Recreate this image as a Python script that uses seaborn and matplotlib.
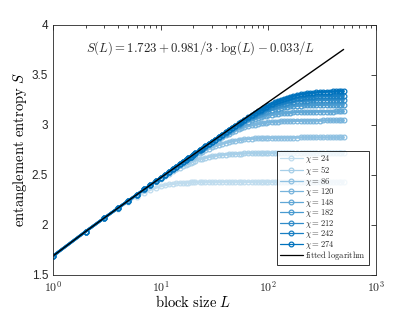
import numpy as np
import pandas as pd
import matplotlib
matplotlib.use("Agg")
import matplotlib.pyplot as plt
import matplotlib.ticker as mticker
import seaborn as sns

# ---------------- data ----------------
L_values = [1, 2, 3, 4, 5, 6, 7, 8, 9, 10,
            11, 12, 13, 14, 15, 16, 17, 18, 19, 20,
            21, 23, 24, 26, 28, 30, 32, 35, 37, 40,
            43, 46, 49, 53, 56, 60, 65, 70, 75, 80,
            85, 90, 95, 100, 107, 115, 122, 130, 140, 150,
            160, 170, 185, 200, 215, 230, 245, 260, 280, 300,
            325, 350, 375, 400, 425, 450, 475, 500]

chi_values = [24, 52, 86, 120, 148, 182, 212, 242, 274]

S_chi24 = [1.690, 1.933, 2.069, 2.163, 2.232, 2.283, 2.322, 2.351, 2.372, 2.387,
           2.397, 2.405, 2.411, 2.415, 2.418, 2.420, 2.422, 2.424, 2.425, 2.426,
           2.426, 2.427, 2.428, 2.428, 2.429, 2.429, 2.429, 2.429, 2.430, 2.430,
           2.430, 2.430, 2.430, 2.430, 2.430, 2.430, 2.430, 2.430, 2.430, 2.430,
           2.430, 2.430, 2.430, 2.430, 2.430, 2.430, 2.430, 2.430, 2.430, 2.430,
           2.430, 2.430, 2.430, 2.430, 2.430, 2.430, 2.430, 2.430, 2.430, 2.430,
           2.430, 2.430, 2.430, 2.430, 2.430, 2.430, 2.430, 2.430]
S_chi52 = [1.690, 1.933, 2.071, 2.167, 2.242, 2.300, 2.351, 2.393, 2.430, 2.462,
           2.490, 2.514, 2.536, 2.556, 2.572, 2.588, 2.602, 2.613, 2.624, 2.633,
           2.643, 2.657, 2.663, 2.672, 2.680, 2.686, 2.692, 2.698, 2.701, 2.704,
           2.707, 2.710, 2.711, 2.713, 2.714, 2.715, 2.716, 2.717, 2.717, 2.718,
           2.718, 2.718, 2.719, 2.719, 2.719, 2.719, 2.720, 2.720, 2.720, 2.720,
           2.720, 2.720, 2.720, 2.720, 2.720, 2.720, 2.720, 2.720, 2.720, 2.720,
           2.720, 2.720, 2.720, 2.720, 2.720, 2.720, 2.720, 2.720]
S_chi86 = [1.690, 1.933, 2.071, 2.168, 2.243, 2.302, 2.354, 2.398, 2.436, 2.470,
           2.500, 2.528, 2.553, 2.576, 2.597, 2.617, 2.634, 2.650, 2.666, 2.680,
           2.694, 2.717, 2.727, 2.746, 2.762, 2.776, 2.788, 2.803, 2.812, 2.822,
           2.831, 2.837, 2.843, 2.849, 2.853, 2.856, 2.860, 2.863, 2.865, 2.867,
           2.868, 2.869, 2.870, 2.871, 2.871, 2.872, 2.873, 2.873, 2.874, 2.874,
           2.874, 2.874, 2.874, 2.875, 2.875, 2.875, 2.875, 2.875, 2.875, 2.875,
           2.875, 2.875, 2.875, 2.875, 2.875, 2.875, 2.875, 2.875]
S_chi120 = [1.690, 1.933, 2.071, 2.168, 2.243, 2.303, 2.355, 2.399, 2.438, 2.472,
            2.503, 2.532, 2.558, 2.582, 2.604, 2.625, 2.645, 2.662, 2.680, 2.696,
            2.712, 2.740, 2.753, 2.777, 2.798, 2.819, 2.837, 2.862, 2.876, 2.896,
            2.912, 2.927, 2.941, 2.956, 2.966, 2.976, 2.988, 2.997, 3.004, 3.011,
            3.016, 3.020, 3.023, 3.026, 3.029, 3.032, 3.034, 3.036, 3.038, 3.039,
            3.040, 3.041, 3.042, 3.042, 3.043, 3.043, 3.044, 3.044, 3.044, 3.044,
            3.045, 3.045, 3.045, 3.045, 3.045, 3.045, 3.045, 3.045]
S_chi148 = [1.690, 1.933, 2.071, 2.168, 2.243, 2.303, 2.355, 2.399, 2.438, 2.473,
            2.504, 2.533, 2.559, 2.583, 2.605, 2.627, 2.647, 2.665, 2.682, 2.699,
            2.714, 2.744, 2.757, 2.782, 2.805, 2.827, 2.846, 2.874, 2.890, 2.913,
            2.933, 2.951, 2.968, 2.987, 3.001, 3.016, 3.033, 3.046, 3.059, 3.068,
            3.077, 3.085, 3.090, 3.096, 3.102, 3.108, 3.112, 3.115, 3.119, 3.121,
            3.124, 3.126, 3.128, 3.129, 3.130, 3.131, 3.132, 3.132, 3.133, 3.133,
            3.134, 3.134, 3.134, 3.134, 3.135, 3.135, 3.135, 3.135]
S_chi182 = [1.690, 1.933, 2.071, 2.168, 2.243, 2.303, 2.355, 2.399, 2.438, 2.473,
            2.504, 2.533, 2.559, 2.584, 2.606, 2.627, 2.647, 2.665, 2.683, 2.700,
            2.716, 2.745, 2.759, 2.784, 2.808, 2.830, 2.850, 2.879, 2.896, 2.920,
            2.941, 2.961, 2.979, 3.002, 3.017, 3.035, 3.055, 3.072, 3.088, 3.102,
            3.113, 3.123, 3.132, 3.140, 3.150, 3.158, 3.164, 3.170, 3.176, 3.181,
            3.185, 3.188, 3.192, 3.194, 3.196, 3.198, 3.199, 3.200, 3.201, 3.202,
            3.202, 3.203, 3.203, 3.204, 3.204, 3.204, 3.204, 3.204]
S_chi212 = [1.690, 1.933, 2.071, 2.168, 2.243, 2.303, 2.355, 2.399, 2.438, 2.473,
            2.504, 2.533, 2.559, 2.584, 2.606, 2.628, 2.648, 2.665, 2.683, 2.700,
            2.716, 2.746, 2.760, 2.785, 2.809, 2.832, 2.852, 2.881, 2.898, 2.923,
            2.945, 2.966, 2.985, 3.009, 3.024, 3.044, 3.066, 3.085, 3.103, 3.118,
            3.132, 3.144, 3.155, 3.164, 3.177, 3.188, 3.197, 3.205, 3.213, 3.219,
            3.225, 3.229, 3.235, 3.238, 3.241, 3.244, 3.246, 3.247, 3.249, 3.250,
            3.251, 3.252, 3.252, 3.253, 3.253, 3.253, 3.254, 3.254]
S_chi242 = [1.690, 1.933, 2.071, 2.168, 2.243, 2.303, 2.355, 2.399, 2.438, 2.473,
            2.504, 2.533, 2.559, 2.584, 2.606, 2.628, 2.648, 2.666, 2.684, 2.700,
            2.716, 2.746, 2.760, 2.786, 2.810, 2.832, 2.853, 2.882, 2.900, 2.925,
            2.947, 2.968, 2.988, 3.012, 3.029, 3.049, 3.072, 3.093, 3.112, 3.128,
            3.144, 3.157, 3.169, 3.181, 3.195, 3.207, 3.218, 3.228, 3.239, 3.247,
            3.254, 3.259, 3.267, 3.272, 3.276, 3.279, 3.282, 3.284, 3.286, 3.288,
            3.289, 3.290, 3.291, 3.292, 3.292, 3.293, 3.293, 3.293]
S_chi274 = [1.690, 1.933, 2.071, 2.168, 2.243, 2.303, 2.355, 2.399, 2.438, 2.473,
            2.504, 2.533, 2.559, 2.584, 2.606, 2.628, 2.648, 2.666, 2.684, 2.701,
            2.717, 2.746, 2.760, 2.786, 2.810, 2.833, 2.854, 2.883, 2.901, 2.926,
            2.949, 2.970, 2.990, 3.015, 3.032, 3.052, 3.077, 3.099, 3.119, 3.137,
            3.154, 3.168, 3.182, 3.195, 3.210, 3.227, 3.239, 3.250, 3.263, 3.273,
            3.283, 3.290, 3.300, 3.307, 3.312, 3.317, 3.321, 3.323, 3.326, 3.329,
            3.331, 3.333, 3.334, 3.335, 3.336, 3.337, 3.337, 3.337]

S_series = [S_chi24, S_chi52, S_chi86, S_chi120, S_chi148,
            S_chi182, S_chi212, S_chi242, S_chi274]

# fitted logarithm coefficients (as printed in the chart)
fit_a, fit_c, fit_b = 1.723, 0.981, 0.033
fit_text = r"$S(L) = 1.723 + 0.981/3 \cdot \log(L) - 0.033/L$"

# ---------------- style ----------------
sns.set_style("white")
plt.rcParams["font.family"] = ["Liberation Sans", "DejaVu Sans"]
plt.rcParams["mathtext.fontset"] = "cm"
axcol = (0.15, 0.15, 0.15)

blue = np.array([0.0, 0.447, 0.741])
white = np.array([1.0, 1.0, 1.0])
ts = np.linspace(0.25, 1.0, len(chi_values))
colors = [tuple(white * (1 - t) + blue * t) for t in ts]

fig = plt.figure(figsize=(4.15, 3.12), dpi=100)
ax = fig.add_axes([0.128, 0.119, 0.778, 0.801])

for chi, S, col in zip(chi_values, S_series, colors):
    df = pd.DataFrame({"L": L_values, "S": S})
    sns.lineplot(data=df, x="L", y="S", ax=ax, color=col, estimator=None,
                 sort=False, linewidth=1.8, marker="o", markersize=3.4,
                 markerfacecolor="none", markeredgecolor=col,
                 markeredgewidth=0.9, label=rf"$\chi = {chi}$")

L_arr = np.array(L_values, dtype=float)
S_fit = fit_a + fit_c / 3 * np.log(L_arr) - fit_b / L_arr
sns.lineplot(x=L_arr, y=S_fit, ax=ax, color="black", linewidth=1.0,
             estimator=None, sort=False, label=r"$\mathrm{fitted\ logarithm}$")

ax.set_xscale("log")
ax.set_xlim(1, 1000)
ax.set_ylim(1.5, 4)
ax.set_yticks([1.5, 2, 2.5, 3, 3.5, 4])
ax.yaxis.set_major_formatter(mticker.FuncFormatter(lambda v, p: f"{v:g}"))
ax.xaxis.set_major_locator(mticker.LogLocator(base=10, numticks=10))
ax.xaxis.set_major_formatter(mticker.FuncFormatter(
    lambda v, p: r"$\mathsf{10}^{\mathsf{%d}}$" % int(round(np.log10(v)))))
ax.xaxis.set_minor_locator(mticker.LogLocator(base=10, subs=np.arange(2, 10), numticks=20))
ax.xaxis.set_minor_formatter(mticker.NullFormatter())

ax.tick_params(which="both", direction="in", top=True, right=True,
               colors=axcol, labelsize=8.5, width=0.6)
ax.tick_params(which="major", length=3.5)
ax.tick_params(which="minor", length=2)
for sp in ax.spines.values():
    sp.set_color(axcol)
    sp.set_linewidth(0.6)

ax.set_xlabel(r"$\mathrm{block\ size}\ L$", fontsize=10.5, color="black")
ax.xaxis.set_label_coords(0.435, -0.075)
ax.set_ylabel(r"$\mathrm{entanglement\ entropy}\ S$", fontsize=10.5, color="black", labelpad=2)

ax.text(23.5, 3.77, fit_text, fontsize=9.2, ha="center", va="center")

leg = ax.legend(loc="lower right", bbox_to_anchor=(0.978, 0.04), borderaxespad=0,
                fontsize=6.2, frameon=True, fancybox=False, edgecolor="black",
                labelspacing=-0.17, handlelength=2.7, handletextpad=0.3,
                borderpad=0.3)
leg.get_frame().set_linewidth(0.7)
for h in leg.get_lines():
    h.set_linewidth(0.9)

fig.savefig("out.png", dpi=100)
